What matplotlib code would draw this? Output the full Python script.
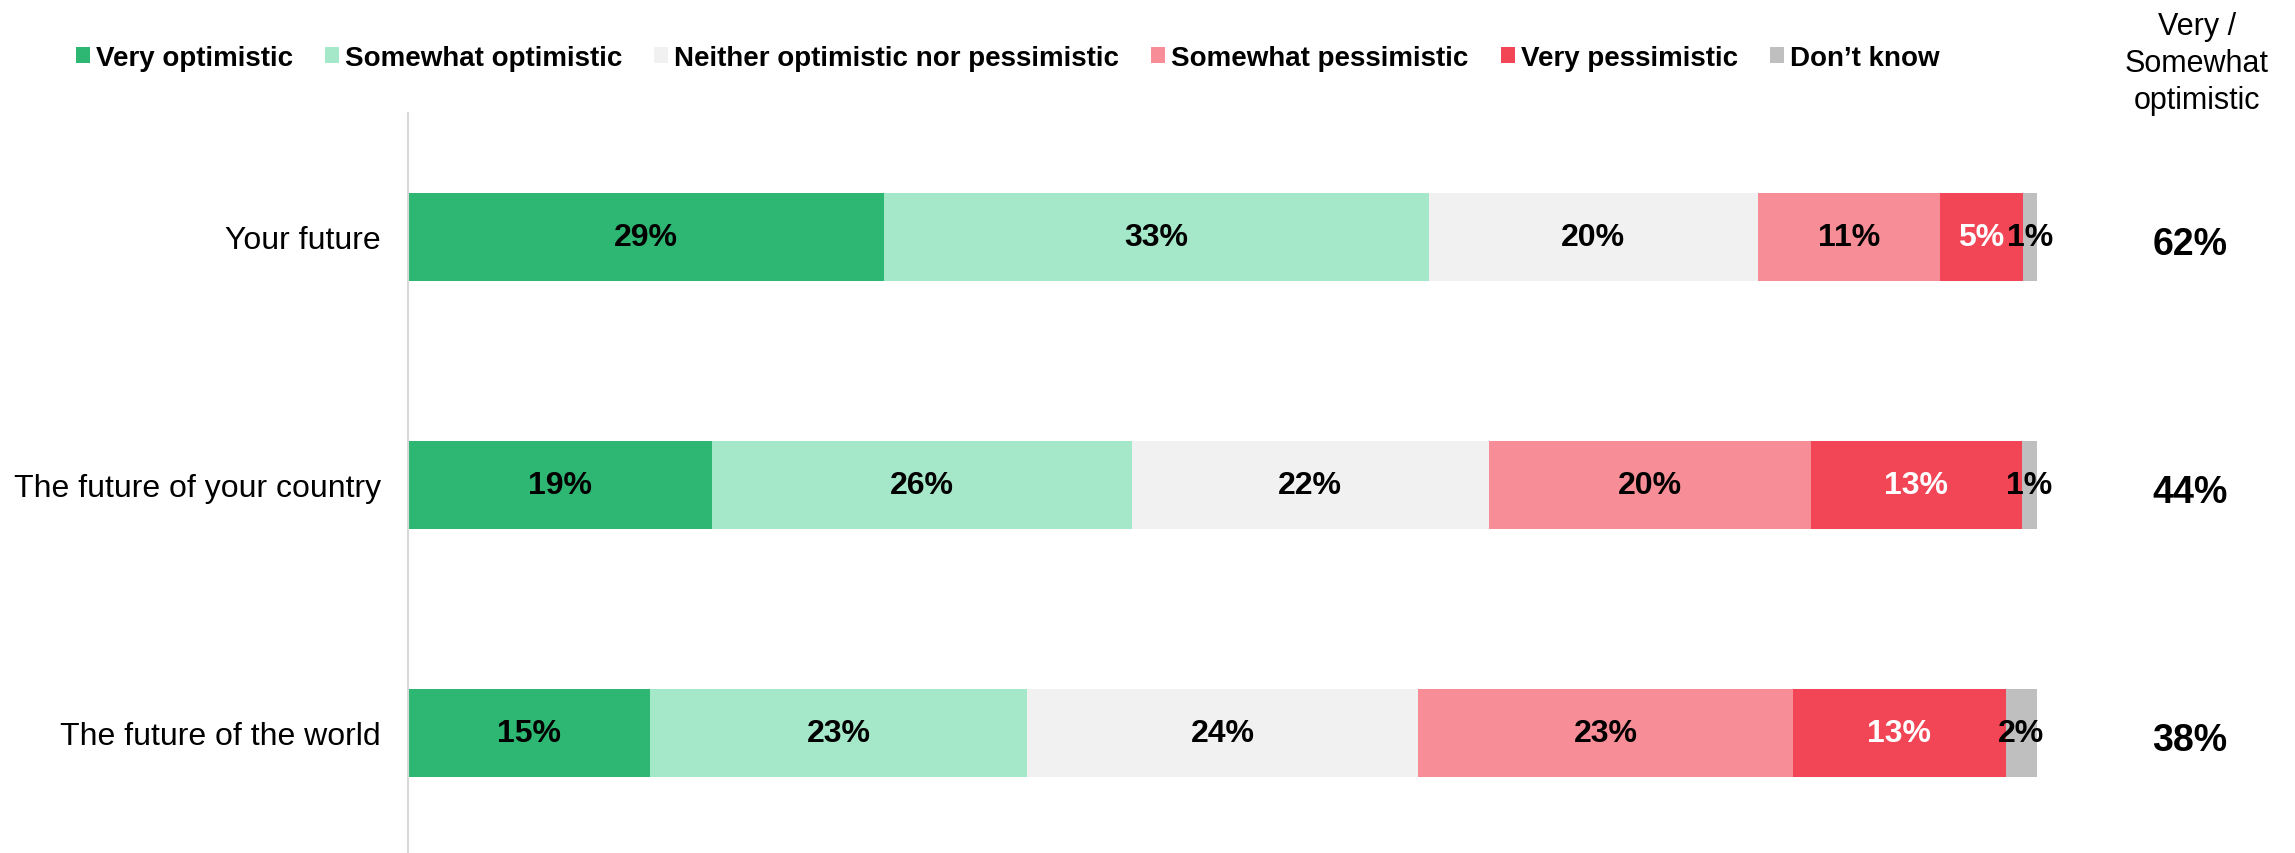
import matplotlib
matplotlib.use("Agg")
import matplotlib.pyplot as plt
from matplotlib.patches import Patch

plt.rcParams['font.family'] = ['Liberation Sans', 'DejaVu Sans']

categories = ["Your future", "The future of your country", "The future of the world"]
series_names = ["Very optimistic", "Somewhat optimistic", "Neither optimistic nor pessimistic",
                "Somewhat pessimistic", "Very pessimistic", "Don\u2019t know"]
very_opt = [29.25, 18.65, 14.86]
somewhat_opt = [33.4, 25.78, 23.12]
neither = [20.2, 21.92, 24.05]
somewhat_pess = [11.2, 19.79, 22.98]
very_pess = [5.07, 12.92, 13.06]
dont_know = [0.93, 0.93, 1.93]
net_optimistic = [62, 44, 38]
net_header = "Very /\nSomewhat\noptimistic"

colors = ["#2EB673", "#A5E8C9", "#F1F1F1", "#F78D96", "#F24556", "#BFBFBF"]
label_colors = ["black", "black", "black", "black", "white", "black"]

series = [very_opt, somewhat_opt, neither, somewhat_pess, very_pess, dont_know]

fig = plt.figure(figsize=(22.95, 8.54), dpi=100)
ax = fig.add_axes([408 / 2295, 0.0, (2037 - 408) / 2295, 1 - 114 / 854])

ypos = list(range(len(categories)))
left = [0.0] * len(categories)
for vals, col, lcol in zip(series, colors, label_colors):
    bars = ax.barh(ypos, vals, left=left, height=0.355, color=col, edgecolor='none')
    for b, v, l in zip(bars, vals, left):
        ax.text(l + v / 2, b.get_y() + b.get_height() / 2, f"{round(v)}%",
                ha='center', va='center', fontsize=23, fontweight='bold', color=lcol)
    left = [a + b for a, b in zip(left, vals)]

ax.set_xlim(0, 100)
ax.set_ylim(2.484, -0.5)
ax.set_yticks(ypos)
ax.set_yticklabels(categories, fontsize=23)
ax.tick_params(axis='y', length=0, pad=19.5)
ax.set_xticks([])
for s in ['top', 'right', 'bottom']:
    ax.spines[s].set_visible(False)
ax.spines['left'].set_color('#D9D9D9')
ax.spines['left'].set_linewidth(1.5)

# right-hand net column
for y, n in zip(ypos, net_optimistic):
    ax.annotate(f"{n}%", xy=(2190 / 2295, y), xycoords=('figure fraction', 'data'),
                xytext=(0, -7), textcoords='offset pixels',
                ha='center', va='center', fontsize=27, fontweight='bold')
fig.text(2197 / 2295, 1 - 64 / 854, net_header, ha='center', va='center',
         fontsize=22, linespacing=1.3)

handles = [Patch(facecolor=c, edgecolor='none') for c in colors]
leg = fig.legend(handles, series_names, loc='center left', bbox_to_anchor=(76 / 2295, 1 - 59 / 854),
                 ncol=6, frameon=False, handlelength=0.5, handleheight=0.5, handletextpad=0.22,
                 columnspacing=1.15, borderaxespad=0, borderpad=0,
                 prop={'size': 20, 'weight': 'bold'})

fig.savefig("out.png", dpi=100, facecolor='white')
